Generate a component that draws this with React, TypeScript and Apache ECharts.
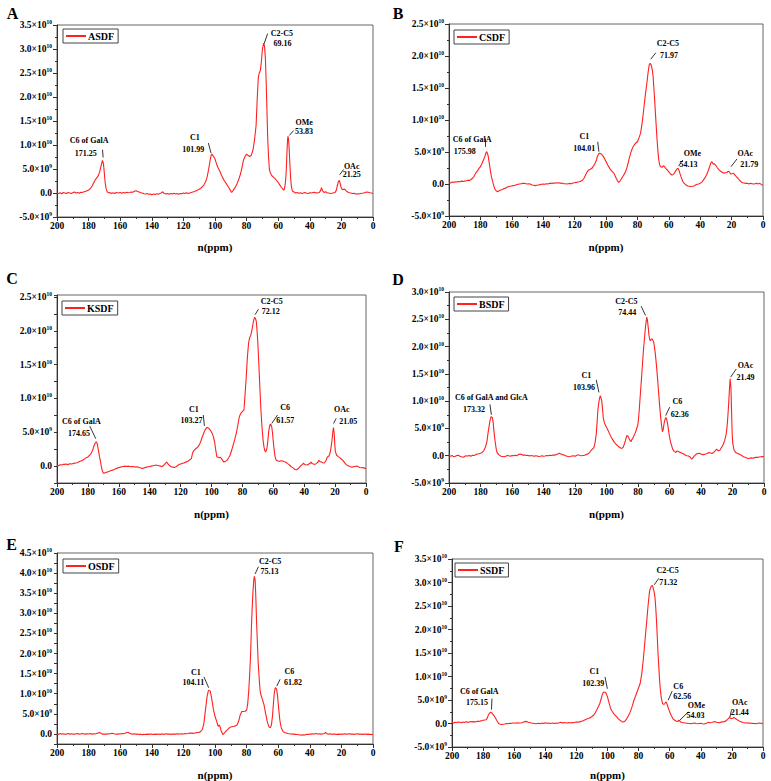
import React, { useEffect, useRef } from 'react';
import * as echarts from 'echarts';

const FONT = "'Liberation Serif', 'Times New Roman', serif";

// ---------- data (ppm, intensity in units of 1e9) ----------
const panelLetters = ['A', 'B', 'C', 'D', 'E', 'F'];
const sampleNames = ['ASDF', 'CSDF', 'KSDF', 'BSDF', 'OSDF', 'SSDF'];
const yMinValues = [-5, -5, -2.5, -5, -2.5, -5];
const yMaxValues = [35, 25, 25.3, 30, 45, 35];
const xTickValues = [0, 20, 40, 60, 80, 100, 120, 140, 160, 180, 200];

const asdf: number[][] = [[200,0.0],[199,-0.1],[198,0.05],[197,-0.15],[196,0.1],[195,0.0],[194,-0.1],[193,0.1],[192,0.0],[191,-0.1],[190,0.05],[189,0.2],[188,0.0],[187,0.1],[186,-0.05],[185,0.15],[184,0.1],[183,0.25],[182,0.3],[181,0.45],[180,0.6],[179,0.9],[178,1.3],[177,2.0],[176,2.6],[175,3.1],[174,3.5],[173,4.4],[172,5.8],[171.25,6.8],[170.6,6.1],[170.1,4.4],[169.6,2.4],[169,1.0],[168.3,0.3],[167.5,0.0],[166.5,0.1],[165.5,-0.1],[164.5,0.05],[163.5,-0.1],[162.5,0.1],[161,0.0],[160,0.1],[159,-0.05],[158,0.1],[157,0.0],[156,0.15],[155,0.05],[154,0.1],[153,0.2],[152,0.15],[151,0.35],[150,0.45],[149,0.3],[148,0.2],[147,0.05],[146,0.0],[145,-0.15],[144,-0.2],[143,-0.1],[142,-0.25],[141,-0.2],[140,-0.35],[139,-0.2],[138,-0.3],[137,-0.15],[136,-0.25],[135,-0.1],[134,0.0],[133,0.25],[132.3,-0.05],[131,-0.2],[130,-0.1],[129,-0.25],[128,-0.1],[127,-0.2],[126,-0.05],[125,-0.2],[124,-0.1],[123,-0.25],[122,-0.1],[121,-0.15],[120,0.0],[119,-0.1],[118,0.05],[117,-0.1],[116,0.0],[115,0.1],[114,0.2],[113,0.3],[112,0.45],[111,0.6],[110,0.8],[109,1.0],[108,1.3],[107,1.7],[106,2.3],[105,3.3],[104,5.0],[103,7.0],[102.4,7.9],[101.99,8.1],[101.3,7.8],[100.5,7.4],[100,7.1],[99,6.0],[98,5.2],[97,4.6],[96,3.8],[95,3.1],[94,2.5],[93,2.0],[92,1.5],[91,1.0],[90.3,0.6],[89.5,0.1],[89,0.3],[88,0.8],[87,1.3],[86,2.0],[85,2.8],[84,3.8],[83,5.2],[82,6.8],[81,7.6],[80,8.1],[79,7.8],[78,7.6],[77,7.9],[76,8.9],[75,11.0],[74,14.0],[73.3,19.5],[72.6,24.0],[72,25.0],[71.3,25.5],[70.6,27.5],[70,30.0],[69.16,31.2],[68.6,30.5],[68.1,28.0],[67.6,23.0],[67.1,17.0],[66.6,11.0],[66.1,7.5],[65.6,5.0],[65,4.2],[64,3.6],[63,3.3],[62,3.0],[61,2.6],[60,2.2],[59,1.7],[58,1.2],[57,0.8],[56.5,0.6],[56,0.9],[55.5,2.0],[55,4.0],[54.5,8.0],[54.1,11.0],[53.83,11.8],[53.5,11.4],[53.1,9.5],[52.6,6.0],[52.1,3.0],[51.6,1.2],[51,0.4],[50,0.2],[49,0.0],[48,0.1],[47,-0.05],[46,0.05],[45,-0.1],[44,0.0],[43,0.1],[42,-0.05],[41,-0.1],[40,0.05],[39,0.0],[38,0.1],[37,0.15],[36,0.0],[35,0.05],[34,0.1],[33.2,0.5],[32.6,1.1],[32,0.5],[31,0.1],[30,0.25],[29,0.05],[28,0.0],[27,-0.1],[26,-0.05],[25,0.05],[24,0.1],[23.2,0.6],[22.4,1.8],[21.7,2.5],[21.25,2.6],[20.7,1.9],[20.1,1.0],[19.3,0.7],[18.5,0.8],[17.8,0.75],[17,0.45],[16,0.2],[15,0.05],[14,0.0],[13,-0.1],[12,-0.05],[11,-0.2],[10,-0.15],[9,-0.2],[8,-0.1],[7,-0.05],[6,0.0],[5,0.1],[4,0.2],[3,0.15],[2,0.05],[1,0.0],[0,-0.1]];

const csdf: number[][] = [[200,0.2],[199,0.15],[198,0.3],[197,0.25],[196,0.35],[195,0.3],[194,0.4],[193,0.35],[192,0.45],[191,0.4],[190,0.45],[189,0.5],[188,0.6],[187,0.55],[186,0.7],[185,0.9],[184,1.2],[183,1.7],[182,2.0],[181,2.4],[180,2.7],[179,3.2],[178,3.8],[177,4.4],[176.4,4.9],[175.98,5.05],[175.4,4.7],[175,4.3],[174.5,3.5],[174,2.7],[173.5,1.9],[173,1.15],[172,0.2],[171,-0.7],[170,-1.05],[169,-1.2],[168,-1.05],[167,-0.95],[166,-0.85],[165,-0.7],[164,-0.65],[163,-0.5],[162,-0.4],[161,-0.35],[160,-0.3],[159,-0.25],[158,-0.2],[157,-0.1],[156,-0.05],[155,0.0],[154,0.05],[153,0.1],[152,0.1],[151,0.05],[150,0.0],[149,0.05],[148,-0.05],[147,-0.15],[146,-0.2],[145,-0.25],[144,-0.2],[143,-0.15],[142,-0.1],[141,-0.05],[140,0.0],[139,-0.05],[138,0.05],[137,0.0],[136,0.1],[135,0.1],[134,0.15],[133,0.1],[132,0.2],[131,0.15],[130,0.2],[129,0.1],[128,0.15],[127,0.05],[126,0.05],[125,0.0],[124,0.05],[123,0.1],[122,0.05],[121,0.15],[120,0.2],[119,0.25],[118,0.3],[117,0.35],[116,0.45],[115,0.6],[114,0.9],[113,1.4],[112,1.9],[111,2.2],[110,2.3],[109,2.45],[108,2.8],[107,3.2],[106,3.8],[105.5,4.3],[104.5,4.75],[104.01,4.8],[103,4.7],[102,4.4],[101,4.0],[100,3.5],[99,3.0],[98,2.6],[97,2.2],[96,1.95],[95,1.7],[94.2,1.3],[93.5,0.9],[92.7,0.5],[92,0.25],[91,0.5],[90,0.9],[89,1.3],[88,1.7],[87,2.3],[86,3.2],[85,4.2],[84,5.05],[83,5.7],[82,6.1],[81,6.4],[80,6.6],[79,7.2],[78,7.9],[77,9.5],[76,11.6],[75,13.8],[74,15.7],[73.2,17.4],[72.5,18.6],[71.97,18.85],[71.4,18.7],[71,18.4],[70.5,17.8],[70,16.8],[69.5,15.0],[69,13.1],[68.5,11.0],[68,9.0],[67.5,7.0],[67,5.3],[66.5,4.0],[66,3.2],[65.5,2.8],[65,2.7],[64.3,2.6],[63.5,2.85],[62.7,2.7],[62,2.45],[61,2.2],[60,1.9],[59,1.6],[58,1.4],[57.3,1.45],[56.5,1.7],[55.5,2.1],[54.6,2.4],[54.13,2.45],[53.6,2.2],[53,1.7],[52,1.0],[51,0.35],[50,0.05],[49,-0.15],[48,-0.3],[47,-0.35],[46,-0.4],[45,-0.35],[44,-0.3],[43,-0.15],[42,-0.05],[41,0.0],[40,0.1],[39,0.3],[38,0.6],[37,0.95],[36,1.4],[35,2.0],[34,2.7],[33.2,3.3],[32.5,3.5],[32,3.2],[31.5,3.1],[31,3.15],[30,2.9],[29,2.5],[28,2.2],[27,2.0],[26,1.85],[25,1.7],[24,1.75],[23,1.8],[22.3,1.95],[21.79,2.0],[21.2,1.8],[20.5,1.55],[19.8,1.6],[19,1.7],[18.2,1.5],[17,1.15],[16,0.9],[15,0.6],[14,0.35],[13,0.2],[12,0.15],[11,0.1],[10,0.1],[9,0.0],[8,0.1],[7,0.05],[6,0.0],[5,0.05],[4,0.1],[3,0.0],[2,0.1],[1,-0.1],[0,-0.2]];

const ksdf: number[][] = [[200,0.1],[199,0.05],[198,0.2],[197,0.15],[196,0.25],[195,0.25],[194,0.3],[193,0.2],[192,0.35],[191,0.3],[190,0.35],[189,0.4],[188,0.45],[187,0.5],[186,0.6],[185,0.7],[184,0.8],[183,0.95],[182,1.1],[181,1.25],[180,1.35],[179,1.6],[178,1.85],[177,2.3],[176.3,2.85],[175.5,3.3],[174.65,3.6],[174,3.35],[173.4,2.6],[173,2.1],[172.5,1.4],[172,0.85],[171.5,0.2],[171,-0.4],[170.5,-0.8],[170,-1.05],[169,-1.0],[168,-0.9],[167,-0.85],[166,-0.75],[165,-0.65],[164,-0.6],[163,-0.5],[162,-0.4],[161,-0.3],[160,-0.2],[159,-0.15],[158,-0.1],[157,-0.05],[156,0.0],[155,-0.05],[154,0.0],[153,-0.05],[152,-0.1],[151,-0.05],[150,-0.1],[149,-0.15],[148,-0.1],[147,-0.2],[146,-0.25],[145,-0.35],[144,-0.3],[143,-0.2],[142,-0.15],[141,-0.1],[140,-0.05],[139,0.0],[138,0.05],[137,0.1],[136,0.15],[135,0.1],[134,0.05],[133,0.0],[132,-0.05],[131,0.1],[130,0.35],[129,0.6],[128,0.3],[127,0.05],[126,-0.1],[125,-0.15],[124,-0.2],[123,-0.1],[122,0.05],[121,0.25],[120,0.3],[119,0.4],[118,0.45],[117,0.55],[116,0.65],[115,0.75],[114,0.95],[113,1.1],[112.3,1.9],[111.5,2.3],[110,2.6],[109,2.8],[108,3.1],[107,3.6],[106,4.3],[105,4.9],[104,5.4],[103.27,5.65],[102.5,5.7],[102,5.65],[101,5.4],[100,5.05],[99,4.5],[98,3.6],[97.2,2.3],[96.5,1.35],[95.5,1.3],[95,1.25],[94.2,1.3],[93.5,1.1],[92.7,0.8],[92,0.6],[91,0.7],[90,0.85],[89,1.2],[88,1.6],[87,2.3],[86,3.1],[85,3.9],[84,4.8],[83,6.0],[82,7.3],[81,7.8],[80,8.05],[79,8.3],[78.3,10.5],[77.5,13.2],[76.8,16.0],[76,18.2],[75.3,19.0],[74.5,19.4],[73.7,20.3],[73,21.2],[72.5,21.7],[72.12,22.0],[71.5,21.8],[71,21.4],[70.5,20.0],[70,18.2],[69.5,15.8],[69,13.2],[68.5,10.6],[68,8.3],[67.5,6.4],[67,4.8],[66.5,3.6],[66,2.8],[65.5,2.3],[65,2.1],[64.5,2.3],[64,2.8],[63.5,3.8],[63,5.05],[62.5,5.8],[62,6.2],[61.57,6.15],[61,5.8],[60.5,4.9],[60,3.6],[59.5,2.5],[59,1.6],[58.5,1.1],[58,0.85],[57,0.75],[56,0.7],[55,0.8],[54,0.75],[53,0.65],[52,0.6],[51,0.4],[50,0.25],[49,0.05],[48,-0.15],[47,-0.3],[46,-0.5],[45,-0.55],[44,-0.4],[43,-0.15],[42,0.1],[41,0.3],[40.5,0.45],[40,0.3],[39,0.2],[38,0.15],[37,0.3],[36,0.45],[35.5,0.6],[35,0.4],[34,0.3],[33,0.25],[32,0.4],[31,0.6],[30.5,0.85],[30,0.7],[29,0.6],[28,0.5],[27,0.45],[26,0.8],[25,1.35],[24,1.5],[23.5,1.75],[23,2.2],[22.5,3.0],[22,3.8],[21.5,5.0],[21.05,5.7],[20.6,4.9],[20.2,3.2],[19.8,2.1],[19,1.6],[18,1.4],[17,1.25],[16,1.05],[15,0.85],[14,0.55],[13,0.25],[12,0.1],[11,0.0],[10,-0.1],[9,-0.15],[8,-0.1],[7,-0.05],[6,0.0],[5,-0.1],[4,-0.2],[3,-0.25],[2,-0.2],[1,-0.3],[0,-0.4]];

const bsdf: number[][] = [[200,0.0],[199,-0.1],[198,0.05],[197,-0.2],[196,-0.1],[195,0.05],[194,0.1],[193,-0.15],[192,-0.2],[191,-0.3],[190,-0.1],[189,0.0],[188,-0.05],[187,0.05],[186,-0.1],[185,0.1],[184,0.05],[183,0.2],[182,0.3],[181,0.35],[180,0.45],[179,0.6],[178,0.9],[177,1.5],[176,2.45],[175,4.6],[174,6.4],[173.32,7.15],[172.5,7.0],[172,6.2],[171.5,4.6],[171,3.3],[170.5,2.15],[170,1.2],[169.5,0.6],[168.5,0.2],[168,0.1],[167,-0.1],[166,-0.15],[165,-0.2],[164,-0.1],[163,0.05],[162,0.0],[161,-0.1],[160,0.05],[159,0.0],[158,0.1],[157,0.0],[156,0.2],[155,0.3],[154,0.25],[153,0.1],[152,0.15],[151,0.05],[150,0.1],[149,-0.05],[148,0.05],[147,0.0],[146,-0.1],[145,0.0],[144,-0.05],[143,-0.15],[142,-0.1],[141,0.0],[140,-0.1],[139,-0.05],[138,0.05],[137,0.0],[136,0.1],[135,0.05],[134,0.15],[133,0.1],[132,0.2],[131,0.3],[130,0.45],[129,0.3],[128,0.2],[127,0.15],[126,0.0],[125,-0.1],[124,-0.2],[123,-0.15],[122,-0.05],[121,0.0],[120,-0.1],[119,0.05],[118,0.2],[117,0.05],[116,0.0],[115,0.05],[114,0.1],[113,0.2],[112,0.3],[111,0.5],[110,0.9],[109,1.2],[108,1.5],[107.2,2.5],[106.5,4.0],[106,6.0],[105.5,8.25],[105,9.5],[104.5,10.4],[103.96,11.0],[103.5,10.6],[103,10.0],[102.5,8.5],[102,6.8],[101.3,6.0],[100.5,5.5],[100,5.2],[99,4.6],[98,4.0],[97,3.4],[96,2.9],[95,2.45],[94,2.1],[93,1.85],[92,1.6],[91,1.4],[90.3,1.35],[89.5,1.5],[88.7,2.1],[88,2.75],[87.5,3.3],[87,3.7],[86.5,3.6],[86,3.4],[85.5,3.0],[85,2.75],[84.3,2.6],[84,2.9],[83,3.4],[82,4.0],[81,4.8],[80,5.8],[79.3,8.0],[78.5,11.3],[77.7,14.5],[77,17.45],[76.5,19.5],[76,21.1],[75.5,22.8],[75,24.2],[74.44,25.4],[74,24.8],[73.5,23.5],[73,22.0],[72.5,21.2],[72,21.1],[71.5,21.4],[71,21.4],[70.5,21.1],[70,20.8],[69.5,19.8],[69,18.7],[68.5,17.2],[68,15.6],[67.5,13.8],[67,11.9],[66.5,10.0],[66,8.3],[65.5,6.7],[65,5.5],[64.5,4.4],[64,4.8],[63.5,5.8],[63,6.5],[62.36,7.0],[61.8,6.7],[61.3,6.0],[60.8,5.1],[60.3,4.0],[59.8,3.2],[59.3,2.5],[58.5,1.7],[58,1.2],[57,0.8],[56,0.6],[55.3,0.85],[54.5,0.8],[54,0.7],[53,0.6],[52,0.45],[51,0.3],[50,0.15],[49,0.0],[48,-0.05],[47,-0.2],[46,-0.6],[45.5,-0.5],[45,-0.3],[44,0.0],[43,0.3],[42,0.4],[41,0.45],[40,0.3],[39,0.2],[38,0.25],[37,0.3],[36,0.4],[35,0.6],[34,0.5],[33,0.4],[32,0.6],[31,0.9],[30,1.2],[29,0.9],[28,1.0],[27,1.5],[26,2.0],[25,2.75],[24.5,3.3],[24,4.0],[23.5,5.2],[23,7.0],[22.5,9.2],[22,11.9],[21.49,14.1],[21,12.5],[20.6,8.3],[20.2,4.0],[19.8,2.2],[19,1.0],[18,0.6],[17,0.45],[16,0.3],[15,0.2],[14,0.0],[13,-0.2],[12,-0.3],[11,-0.4],[10,-0.5],[9,-0.45],[8,-0.4],[7,-0.45],[6,-0.35],[5,-0.3],[4,-0.3],[3,-0.25],[2,-0.2],[1,-0.15],[0,-0.2]];

const osdf: number[][] = [[200,0.0],[199,-0.1],[198,0.1],[197,-0.05],[196,0.05],[195,-0.1],[194,0.0],[193,0.1],[192,-0.05],[191,0.05],[190,0.0],[189,-0.1],[188,0.05],[187,0.1],[186,-0.05],[185,0.0],[184,0.1],[183,0.0],[182,-0.05],[181,0.05],[180,0.0],[179,0.1],[178,-0.05],[177,0.05],[176,0.0],[175,0.1],[174,0.2],[173,0.4],[172,0.1],[171,-0.05],[170,0.0],[169,-0.1],[168,0.05],[167,0.0],[166,0.1],[165,0.15],[164,0.05],[163,0.0],[162,-0.1],[161,0.05],[160,0.0],[159,0.1],[158,0.05],[157,0.15],[156,0.3],[155,0.4],[154,0.15],[153,0.0],[152,-0.05],[151,0.05],[150,-0.1],[149,0.0],[148,-0.15],[147,-0.05],[146,-0.2],[145,-0.1],[144,-0.15],[143,-0.05],[142,-0.1],[141,0.0],[140,-0.05],[139,-0.15],[138,-0.05],[137,-0.1],[136,0.0],[135,-0.1],[134,-0.05],[133,0.0],[132,-0.1],[131,0.05],[130,-0.05],[129,0.0],[128,-0.1],[127,-0.05],[126,0.0],[125,-0.05],[124,0.05],[123,-0.05],[122,0.0],[121,0.05],[120,0.0],[119,0.1],[118,0.05],[117,0.1],[116,0.2],[115,0.25],[114,0.15],[113,0.2],[112,0.3],[111,0.35],[110,0.4],[109,0.6],[108,1.1],[107,2.75],[106,6.1],[105,9.4],[104.11,10.9],[103,10.65],[102,8.6],[101,6.1],[100,4.4],[99,3.2],[98,1.9],[97.3,2.2],[96.8,1.8],[96,0.65],[95,-0.15],[94,0.25],[93,0.7],[92,1.1],[91,1.5],[90,1.75],[89,1.85],[88,1.9],[87,2.0],[86,2.3],[85,3.2],[84,4.8],[83,5.6],[82,5.6],[81,5.65],[80,5.9],[79.3,7.5],[78.6,11.0],[78,15.2],[77.4,20.5],[77,26.0],[76.5,31.0],[76,35.2],[75.5,38.0],[75.13,39.2],[74.6,38.3],[74.2,34.5],[73.7,28.0],[73.2,23.0],[72.7,18.0],[72,13.6],[71.5,11.0],[71,9.8],[70.5,9.2],[70,8.6],[69,7.3],[68,5.2],[67,3.2],[66,1.9],[65,1.5],[64.3,2.2],[63.6,4.5],[63,7.7],[62.5,10.0],[62,11.2],[61.82,11.5],[61.3,11.3],[61,11.1],[60.5,9.8],[60,7.7],[59.5,5.5],[59,3.6],[58.5,2.3],[58,1.5],[57,0.65],[56,0.35],[55,0.25],[54,0.1],[53,0.05],[52,0.0],[51,-0.05],[50,0.0],[49,-0.1],[48,-0.15],[47,-0.2],[46,-0.25],[45,-0.3],[44,-0.2],[43,-0.25],[42,-0.1],[41,-0.15],[40,0.0],[39,-0.05],[38,0.05],[37,0.0],[36,0.1],[35,0.0],[34,0.05],[33,-0.05],[32,0.0],[31,0.1],[30.5,0.2],[30,0.4],[29.5,0.15],[29,0.0],[28,-0.05],[27,0.05],[26,-0.1],[25,0.0],[24,-0.05],[23,-0.15],[22,-0.05],[21,-0.1],[20,0.0],[19,-0.1],[18,0.05],[17,-0.05],[16,0.0],[15,0.05],[14,-0.05],[13,0.0],[12,-0.1],[11,0.0],[10,0.05],[9,-0.05],[8,0.0],[7,-0.1],[6,-0.05],[5,0.0],[4,-0.1],[3,-0.05],[2,-0.15],[1,-0.1],[0,-0.2]];

const ssdf: number[][] = [[200,0.2],[199,0.1],[198,0.25],[197,0.2],[196,0.3],[195,0.25],[194,0.15],[193,0.3],[192,0.2],[191,0.35],[190,0.3],[189,0.25],[188,0.4],[187,0.35],[186,0.4],[185,0.3],[184,0.45],[183,0.45],[182,0.5],[181,0.6],[180,0.7],[179,0.75],[178,0.8],[177.3,1.2],[176.6,1.8],[176,2.1],[175.15,2.4],[174.5,2.3],[174,2.1],[173.3,1.8],[172.5,1.4],[171.8,1.0],[171,0.55],[170,0.0],[169,-0.15],[168,-0.2],[167,-0.15],[166,-0.1],[165,0.0],[164,-0.05],[163,0.05],[162,0.0],[161,0.1],[160,0.1],[159,0.05],[158,0.15],[157,0.1],[156,0.1],[155,0.15],[154,0.3],[153,0.4],[152.5,0.45],[152,0.4],[151,0.25],[150,0.2],[149,0.1],[148,0.05],[147,0.0],[146,-0.05],[145,0.0],[144,0.05],[143,-0.05],[142,0.1],[141,0.0],[140,0.15],[139,0.05],[138,0.1],[137,0.0],[136,0.05],[135,0.1],[134,0.0],[133,0.1],[132,0.05],[131,0.15],[130,0.25],[129,0.1],[128,0.2],[127,0.15],[126,0.1],[125,0.2],[124,0.1],[123,0.2],[122,0.15],[121,0.25],[120,0.3],[119,0.3],[118,0.35],[117,0.45],[116,0.55],[115,0.7],[114,0.85],[113,1.0],[112,1.1],[111,1.25],[110,1.5],[109,1.75],[108,2.2],[107,2.8],[106,3.5],[105,4.2],[104.2,5.1],[103.5,6.0],[102.9,6.5],[102.39,6.7],[101.7,6.65],[101,6.5],[100.5,6.1],[100,5.65],[99,4.4],[98,3.2],[97,2.6],[96,2.1],[95,1.7],[94,1.4],[93,1.0],[92,0.7],[91,0.45],[90.5,0.35],[90,0.3],[89,0.45],[88,0.8],[87,1.4],[86,2.0],[85,2.8],[84,3.8],[83,4.95],[82,5.8],[81,6.7],[80,7.6],[79,8.5],[78,10.5],[77,13.5],[76.2,16.5],[75.5,19.15],[74.7,22.0],[74,24.8],[73.5,26.5],[73,28.0],[72.5,28.7],[72,29.1],[71.32,29.4],[70.9,29.2],[70.5,28.7],[70,28.0],[69.5,27.0],[69,24.8],[68.5,22.0],[68,18.5],[67.5,14.9],[67,12.0],[66.5,9.2],[66,7.2],[65.5,5.65],[65,4.8],[64.5,4.2],[64,4.1],[63.5,4.1],[63,4.3],[62.56,4.6],[62,4.4],[61.5,3.9],[61,3.4],[60.5,2.9],[60,2.45],[59,1.7],[58,1.05],[57,0.75],[56,0.55],[55,0.45],[54.5,0.5],[54.03,0.7],[53.5,0.55],[53,0.3],[52,0.2],[51,0.15],[50,0.1],[49,0.05],[48,0.0],[47,0.0],[46,-0.05],[45,0.05],[44,0.1],[43,0.0],[42,-0.05],[41,0.0],[40,0.05],[39,-0.05],[38,-0.1],[37,0.0],[36,0.1],[35,0.25],[34,0.15],[33,0.2],[32,0.3],[31,0.4],[30,0.25],[29,0.2],[28,0.15],[27,0.3],[26,0.35],[25,0.4],[24,0.5],[23,0.8],[22.2,1.1],[21.44,1.25],[20.8,1.1],[20.3,1.0],[19.6,1.1],[19,1.25],[18.3,1.2],[17.5,1.0],[16.8,0.85],[16,0.7],[15,0.5],[14,0.35],[13,0.2],[12,0.15],[11,0.1],[10,0.15],[9,0.05],[8,0.1],[7,0.0],[6,0.05],[5,-0.05],[4,0.0],[3,0.05],[2,0.1],[1,0.0],[0,0.05]];

const spectra = [asdf, csdf, ksdf, bsdf, osdf, ssdf];

// peak annotations: [text, ppm, intensity(1e9)]
const notesA: [string, number, number][] = [['C6 of GalA',179.7,10.9],['171.25',181.8,8.3],['C1',112.7,11.5],['101.99',113.7,9.1],['C2-C5',57.7,33.2],['69.16',57.3,31.1],['OMe',43.6,14.7],['53.83',43.6,12.8],['OAc',13.5,5.6],['21.25',13.5,3.8]];
const notesB: [string, number, number][] = [['C6 of GalA',185.3,7.0],['175.98',190.0,5.05],['C1',113.8,7.4],['104.01',113.8,5.6],['C2-C5',60.6,22.0],['71.97',59.8,20.05],['OMe',44.9,4.7],['54.13',47.4,3.1],['OAc',11.3,4.7],['21.79',8.7,3.1]];
const notesC: [string, number, number][] = [['C6 of GalA',184.2,6.55],['174.65',185.7,4.8],['C1',111.4,8.4],['103.27',112.9,6.7],['C2-C5',61.0,24.3],['72.12',61.6,22.8],['C6',52.3,8.6],['61.57',52.3,6.8],['OAc',15.6,8.3],['21.05',11.5,6.55]];
const notesD: [string, number, number][] = [['C6 of GalA and GlcA',173.1,10.6],['173.32',184.1,8.45],['C1',112.8,14.7],['103.96',114.3,12.55],['C2-C5',87.4,28.3],['74.44',86.8,26.2],['C6',55.0,9.9],['62.36',53.5,7.5],['OAc',11.8,16.5],['21.49',11.8,14.4]];
const notesE: [string, number, number][] = [['C1',112.1,15.4],['104.11',113.7,12.7],['C2-C5',65.1,42.9],['75.13',65.5,40.4],['C6',52.9,15.5],['61.82',50.7,12.7]];
const notesF: [string, number, number][] = [['C6 of GalA',182.5,6.9],['175.15',184.0,4.4],['C1',108.4,11.0],['102.39',109.1,8.5],['C2-C5',61.4,32.5],['71.32',61.0,29.9],['C6',54.5,7.9],['62.56',52.0,5.65],['OMe',42.8,3.9],['54.03',43.4,1.75],['OAc',15.0,4.4],['21.44',15.0,2.3]];
const notes = [notesA, notesB, notesC, notesD, notesE, notesF];

// arrows: [fromPpm, fromI, toPpm, toI]
const arrowsA = [[171.2,9.0,170.8,7.4],[104.2,10.4,102.5,8.3],[66.7,33.2,68.9,31.1],[50.3,13.0,52.9,12.0],[18.6,4.9,21.1,3.8]];
const arrowsB = [[176.6,7.1,176.6,5.8],[105.3,6.6,104.5,5.05],[68.3,20.5,71.5,19.5],[51.1,3.75,53.8,2.8],[16.6,3.9,20.4,2.7]];
const arrowsC = [[178.8,5.9,174.9,4.05],[105.3,7.55,104.6,5.95],[69.6,23.2,71.8,22.4],[57.3,7.55,61.0,6.3],[19.3,7.05,21.0,6.3]];
const arrowsD = [[174.0,9.4,173.1,7.5],[106.5,13.9,104.8,11.6],[78.0,27.4,75.2,25.7],[59.9,8.9,62.4,7.35],[17.6,15.9,21.2,14.4]];
const arrowsE = [[107.0,14.2,104.0,11.5],[72.5,41.6,74.6,39.8],[58.8,13.6,60.9,11.9]];
const arrowsF = [[174.3,5.3,174.6,2.95],[101.6,9.9,100.1,7.4],[67.0,30.9,70.0,29.5],[58.4,6.9,61.0,4.95],[48.1,2.45,53.5,0.7],[20.3,2.8,21.4,1.25]];
const arrows = [arrowsA, arrowsB, arrowsC, arrowsD, arrowsE, arrowsF];

// ---------- layout ----------
const gridBoxes = [
  { left: 57, top: 25, width: 316, height: 192 },
  { left: 449, top: 24, width: 314, height: 192 },
  { left: 57, top: 295, width: 309, height: 188 },
  { left: 449, top: 292, width: 315, height: 191 },
  { left: 57, top: 553, width: 316, height: 191 },
  { left: 452, top: 559, width: 311, height: 188 },
];
const legendPos = [
  { left: 63, top: 29 }, { left: 454, top: 30 }, { left: 62, top: 301 },
  { left: 454, top: 297 }, { left: 63, top: 559 }, { left: 455, top: 563 },
];
const letterPos = [[12.5, 13.5], [398, 13], [12, 278.5], [398, 279.5], [11.5, 544], [399, 546.5]];
const nameGaps = [24, 25, 25, 25.5, 25, 22];

const RED = '#ff2020';
const AXIS = '#333';

function yLabel(v: number): string {
  const g = v / 1e9;
  if (Math.abs(g - Math.round(g / 5) * 5) > 1e-6) return '';
  if (Math.abs(g) < 1e-6) return '{n|0.0}';
  const exp = Math.floor(Math.log10(Math.abs(v)) + 1e-9);
  const mant = v / Math.pow(10, exp);
  return `{n|${mant.toFixed(1)}×10}{s|${exp}}`;
}

function buildOption() {
  const grid: any[] = [];
  const xAxis: any[] = [];
  const yAxis: any[] = [];
  const legend: any[] = [];
  const series: any[] = [];
  const graphic: any[] = [];

  for (let i = 0; i < 6; i++) {
    grid.push({
      ...gridBoxes[i],
      show: true,
      borderColor: '#666',
      borderWidth: 1,
      backgroundColor: 'transparent',
      containLabel: false,
      outerBoundsMode: 'none',
    });
    xAxis.push({
      type: 'value',
      gridIndex: i,
      min: xTickValues[0],
      max: xTickValues[xTickValues.length - 1],
      interval: 20,
      inverse: true,
      name: 'n(ppm)',
      nameLocation: 'middle',
      nameGap: nameGaps[i],
      nameTextStyle: { fontFamily: FONT, fontWeight: 'bold', fontSize: 11, color: '#000' },
      axisLine: { show: true, onZero: false, lineStyle: { color: AXIS, width: 1 } },
      axisTick: { show: true, inside: false, length: 4, lineStyle: { color: AXIS } },
      minorTick: { show: true, splitNumber: 2, length: 2, lineStyle: { color: AXIS } },
      axisLabel: { show: true, margin: 4, fontFamily: FONT, fontWeight: 'bold', fontSize: 9.5, color: '#000' },
      splitLine: { show: false },
      minorSplitLine: { show: false },
    });
    const fiveStep = yMinValues[i] % 5 === 0;
    yAxis.push({
      type: 'value',
      gridIndex: i,
      min: yMinValues[i] * 1e9,
      max: yMaxValues[i] * 1e9,
      interval: fiveStep ? 5e9 : 2.5e9,
      axisLine: { show: true, onZero: false, lineStyle: { color: AXIS, width: 1 } },
      axisTick: { show: true, inside: false, length: fiveStep ? 4 : 3, lineStyle: { color: AXIS } },
      minorTick: { show: fiveStep, splitNumber: 2, length: 2, lineStyle: { color: AXIS } },
      axisLabel: {
        show: true,
        margin: 5,
        formatter: yLabel,
        rich: {
          n: { fontFamily: FONT, fontWeight: 'bold', fontSize: 9.5, color: '#000', lineHeight: 12 },
          s: { fontFamily: FONT, fontWeight: 'bold', fontSize: 5.5, color: '#000', verticalAlign: 'top', lineHeight: 7 },
        },
      },
      splitLine: { show: false },
      minorSplitLine: { show: false },
    });
    legend.push({
      show: true,
      data: [{ name: sampleNames[i], icon: 'rect' }],
      left: legendPos[i].left,
      top: legendPos[i].top,
      orient: 'horizontal',
      itemWidth: 20,
      itemHeight: 2,
      itemGap: 0,
      padding: [2, 4, 2, 3],
      borderColor: '#444',
      borderWidth: 1,
      borderRadius: 0,
      backgroundColor: '#fff',
      selectedMode: false,
      itemStyle: { color: RED, borderWidth: 0 },
      textStyle: { fontFamily: FONT, fontWeight: 'bold', fontSize: 10, color: '#000', padding: [0, 0, 0, -3] },
    });
    series.push({
      type: 'line',
      name: sampleNames[i],
      xAxisIndex: i,
      yAxisIndex: i,
      data: spectra[i].map(([x, y]) => [x, y * 1e9]),
      symbol: 'none',
      showSymbol: false,
      smooth: false,
      lineStyle: { color: RED, width: 1.1 },
      itemStyle: { color: RED },
      silent: true,
      z: 3,
    });
    series.push({
      type: 'scatter',
      name: sampleNames[i] + ' peaks',
      xAxisIndex: i,
      yAxisIndex: i,
      data: notes[i].map(([t, x, y]) => [x, y * 1e9, t]),
      symbol: 'circle',
      symbolSize: 1,
      itemStyle: { color: 'rgba(0,0,0,0)' },
      silent: true,
      z: 4,
      label: {
        show: true,
        position: 'inside',
        formatter: (p: any) => p.value[2],
        fontFamily: FONT,
        fontWeight: 'bold',
        fontSize: 8,
        color: '#000',
        textBorderWidth: 0,
        textBorderColor: 'transparent',
        opacity: 1,
      },
      labelLayout: { hideOverlap: false },
      markLine: {
        silent: true,
        symbol: ['none', 'arrow'],
        symbolSize: [0, 6],
        label: { show: false },
        lineStyle: { color: '#000', width: 0.8, type: 'solid', opacity: 1 },
        itemStyle: { color: '#000' },
        emphasis: { disabled: true },
        data: arrows[i].map(([x1, y1, x2, y2]) => [
          { coord: [x1, y1 * 1e9] },
          { coord: [x2, y2 * 1e9] },
        ]),
      },
    });
    graphic.push({
      type: 'text',
      x: letterPos[i][0],
      y: letterPos[i][1],
      silent: true,
      style: {
        text: panelLetters[i],
        fontFamily: FONT,
        fontWeight: 'bold',
        fontSize: 16,
        fill: '#000',
        align: 'center',
        verticalAlign: 'middle',
      },
    });
  }

  return {
    animation: false,
    backgroundColor: '#fff',
    grid,
    xAxis,
    yAxis,
    legend,
    series,
    graphic,
  };
}

export default function App() {
  const ref = useRef<HTMLDivElement>(null);
  useEffect(() => {
    if (!ref.current) return;
    const chart = echarts.init(ref.current, null, { renderer: 'svg' });
    chart.setOption(buildOption() as any);
    return () => chart.dispose();
  }, []);
  return (
    <div
      ref={ref}
      style={{ position: 'fixed', left: 0, top: 0, width: 771, height: 781, background: '#fff' }}
    />
  );
}
